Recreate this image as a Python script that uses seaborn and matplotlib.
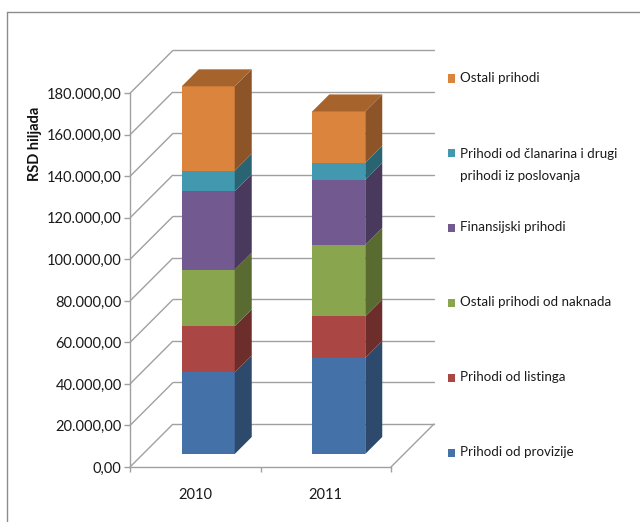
import matplotlib
matplotlib.use("Agg")
import matplotlib.pyplot as plt
import seaborn as sns
import pandas as pd
import numpy as np
from matplotlib.transforms import ScaledTranslation
from matplotlib.lines import Line2D
from matplotlib.patches import Rectangle, Polygon

# ---------------- data ----------------
years = ["2010", "2011"]
series_names = [
    "Prihodi od provizije",
    "Prihodi od listinga",
    "Ostali prihodi od naknada",
    "Finansijski prihodi",
    "Prihodi od članarina i drugi\nprihodi iz poslovanja",
    "Ostali prihodi",
]
provizije = [39300, 46300]
listinga = [22200, 20000]
naknade = [27300, 34400]
finansijski = [37700, 31300]
clanarine = [10000, 8300]
ostali = [40600, 24700]
yticks = [0, 20000, 40000, 60000, 80000, 100000, 120000, 140000, 160000, 180000]
ytick_labels = ["0,00", "20.000,00", "40.000,00", "60.000,00", "80.000,00",
                "100.000,00", "120.000,00", "140.000,00", "160.000,00", "180.000,00"]
y_label = "RSD hiljada"

front_colors = ["#4571A9", "#AA4744", "#89A64F", "#72598F", "#4299AF", "#DB843D"]
side_colors = ["#2D4A6D", "#6C2D2B", "#5A6B32", "#49395C", "#2A6473", "#8C5427"]
top_color = "#A7632C"
grid_color = "#A0A0A0"

values = [provizije, listinga, naknade, finansijski, clanarine, ostali]

# ---------------- figure ----------------
sns.set_style("white")
plt.rcParams["font.family"] = ["Lato", "DejaVu Sans"]

W, H, DPI = 640, 522, 100
fig = plt.figure(figsize=(W / DPI, H / DPI), dpi=DPI)
ax_l, ax_r, ax_t, ax_b = 130, 391, 93.3, 467
ax = fig.add_axes([ax_l / W, (H - ax_b) / H, (ax_r - ax_l) / W, (ax_b - ax_t) / H])
ax.set_xlim(-0.5, 1.5)
ax.set_ylim(0, 180000)

# pixel -> data conversions
px_x = 2.0 / (ax_r - ax_l)
px_y = 180000.0 / (ax_b - ax_t)
D = 43      # depth of the 3D box (px)
OFF = 13    # offset of bar front from front plane (px)
BD = 17     # depth of bars (px)
bar_w = 0.406

# back wall / floor lines
for v in yticks:
    ax.plot([-0.5, -0.5 + D * px_x], [v, v + D * px_y], color=grid_color, lw=1,
            zorder=0.5, clip_on=False, solid_capstyle="butt")
    ax.plot([-0.5 + D * px_x, 1.5 + D * px_x], [v + D * px_y, v + D * px_y],
            color=grid_color, lw=1, zorder=0.5, clip_on=False)
ax.plot([1.5, 1.5 + D * px_x], [0, D * px_y], color=grid_color, lw=1, zorder=0.5, clip_on=False)

# stacked bars: cumulative, drawn tallest first
df = pd.DataFrame({"year": np.repeat(years, len(series_names)),
                   "series": series_names * len(years),
                   "value": [values[s][i] for i in range(len(years)) for s in range(len(series_names))]})
df["cum"] = df.groupby("year")["value"].cumsum()
df["bottom"] = df["cum"] - df["value"]

offset = ScaledTranslation(OFF / DPI, OFF / DPI, fig.dpi_scale_trans)
for s in reversed(range(len(series_names))):
    sub = df[df["series"] == series_names[s]]
    sns.barplot(data=sub, x="year", y="cum", color=front_colors[s], saturation=1,
                width=bar_w, ax=ax, order=years, errorbar=None, linewidth=0, zorder=3)
for p in ax.patches:
    p.set_transform(ax.transData + offset)
    p.set_clip_on(False)

# side and top faces
ox, oy = OFF * px_x, OFF * px_y
dx, dy = BD * px_x, BD * px_y
for i, yr in enumerate(years):
    sub = df[df["year"] == yr]
    xl = i - bar_w / 2 + ox
    xr = i + bar_w / 2 + ox
    for s, (_, row) in enumerate(sub.iterrows()):
        b, t = row["bottom"] + oy, row["cum"] + oy
        ax.add_patch(Polygon([(xr, b), (xr + dx, b + dy), (xr + dx, t + dy), (xr, t)],
                             closed=True, facecolor=side_colors[s], edgecolor="none",
                             zorder=3, clip_on=False))
    top = sub["cum"].iloc[-1] + oy
    ax.add_patch(Polygon([(xl, top), (xl + dx, top + dy), (xr + dx, top + dy), (xr, top)],
                         closed=True, facecolor=top_color, edgecolor="none",
                         zorder=3, clip_on=False))

# axes styling
for sp in ["top", "right"]:
    ax.spines[sp].set_visible(False)
for sp in ["left", "bottom"]:
    ax.spines[sp].set_color(grid_color)
    ax.spines[sp].set_linewidth(1)
ax.set_yticks(yticks)
ax.set_yticklabels(ytick_labels)
ax.tick_params(axis="y", which="major", left=True, length=4, width=1, color=grid_color,
               pad=2, labelsize=10.5, labelcolor="#1a1a1a")
ax.set_xticks([-0.5, 0.5, 1.5])
ax.set_xticklabels(["", "", ""])
ax.set_xticks([0, 1], minor=True)
ax.set_xticklabels(years, minor=True)
ax.tick_params(axis="x", which="major", bottom=True, length=3.5, width=1, color=grid_color)
ax.tick_params(axis="x", which="minor", bottom=True, length=0, pad=15,
               labelsize=10.5, labelcolor="#1a1a1a")
ax.set_xlabel("")
ax.set_ylabel("")
ax.grid(False)
ax.set_facecolor("none")

fig.text(35 / W, 1 - 143.5 / H, y_label, rotation=90, ha="center", va="center",
         fontsize=10.5, fontweight="bold", color="#111111")

# legend (manual, top to bottom)
leg_y = [78, 152, 227, 302, 377, 452]
for k, s in enumerate(reversed(range(len(series_names)))):
    yc = leg_y[k]
    fig.add_artist(Rectangle((448 / W, 1 - (yc + 4.5) / H), 7 / W, 8 / H,
                             transform=fig.transFigure, facecolor=front_colors[s],
                             edgecolor="none"))
    multi = "\n" in series_names[s]
    fig.text(460 / W, 1 - (yc - 4 if multi else yc) / H, series_names[s], ha="left",
             va="top" if multi else "center",
             fontsize=9.6, color="#1a1a1a", linespacing=2.05)

# outer frame
fig.add_artist(Line2D([7 / W, 7 / W], [0, 1 - 12 / H], transform=fig.transFigure,
                      color="#8c8c8c", lw=1))
fig.add_artist(Line2D([7 / W, 1], [1 - 12 / H, 1 - 12 / H], transform=fig.transFigure,
                      color="#8c8c8c", lw=1))

fig.savefig("out.png", dpi=DPI)
